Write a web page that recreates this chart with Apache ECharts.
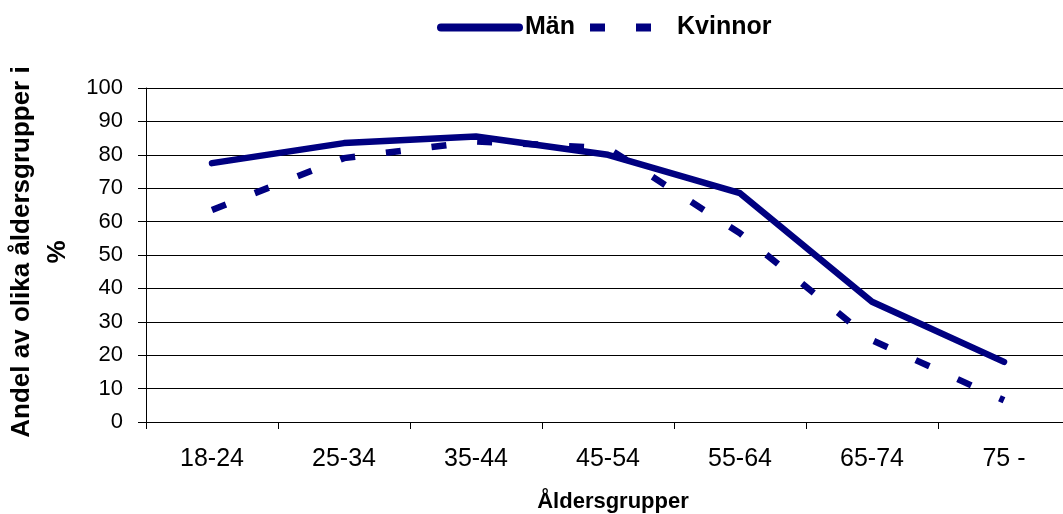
<!DOCTYPE html>
<html>
<head>
<meta charset="utf-8">
<script src="https://cdn.jsdelivr.net/npm/echarts@6/dist/echarts.min.js"></script>
<style>
  html, body { margin: 0; padding: 0; background: #fff; }
  #chart { width: 1063px; height: 514px; }
</style>
</head>
<body>
<div id="chart"></div>
<script>
var category = ['18-24', '25-34', '35-44', '45-54', '55-64', '65-74', '75 -'];
var manData = [77.5, 83.5, 85.5, 80, 68.5, 36, 18];
var kvinnorData = [63.5, 79, 84, 82, 56.5, 24.5, 6.5];

var navy = '#000080';
var font = '"Liberation Sans", Arial, sans-serif';

var myChart = echarts.init(document.getElementById('chart'));

var option = {
    animation: false,
    backgroundColor: '#fff',
    legend: {
        left: 432,
        top: 10,
        itemWidth: 86,
        itemHeight: 8,
        itemGap: 15,
        textStyle: {
            fontFamily: font,
            fontWeight: 'bold',
            fontSize: 25,
            color: '#000',
            padding: [0, 0, 0, -3]
        },
        data: [
            { name: 'Män', icon: 'path://M4,0H82A4,4 0 0 1 82,8H4A4,4 0 0 1 4,0Z' },
            { name: 'Kvinnor', icon: 'path://M2,0h15v8h-15zM48,0h15v8h-15zM86,0L86,8L86,0z' }
        ]
    },
    grid: {
        left: 146,
        width: 924,
        top: 88,
        bottom: 92,
        containLabel: false,
        outerBoundsMode: 'none'
    },
    graphic: [{
        type: 'text',
        x: 40,
        y: 252,
        rotation: Math.PI / 2,
        style: {
            text: 'Andel av olika åldersgrupper i\n%',
            font: 'bold 26px "Liberation Sans", Arial, sans-serif',
            fill: '#000',
            align: 'center',
            verticalAlign: 'middle',
            lineHeight: 36
        }
    }],
    xAxis: {
        type: 'category',
        data: category,
        boundaryGap: true,
        name: 'Åldersgrupper',
        nameLocation: 'middle',
        nameGap: 69,
        nameTextStyle: {
            fontFamily: font,
            fontWeight: 'bold',
            fontSize: 22,
            color: '#000',
            padding: [0, 0, 0, 10]
        },
        axisLine: { lineStyle: { color: '#000', width: 1 } },
        axisTick: { show: true, length: 7, lineStyle: { color: '#000' } },
        axisLabel: {
            margin: 25,
            fontFamily: font,
            fontSize: 25,
            color: '#000'
        }
    },
    yAxis: {
        type: 'value',
        min: 0,
        max: 100,
        interval: 10,
        axisLine: { show: true, lineStyle: { color: '#000', width: 1 } },
        axisTick: { show: true, length: 8, lineStyle: { color: '#000' } },
        splitLine: { show: true, lineStyle: { color: '#000', width: 1 } },
        axisLabel: {
            margin: 23,
            fontFamily: font,
            fontSize: 22,
            color: '#000'
        }
    },
    series: [
        {
            name: 'Män',
            type: 'line',
            data: manData,
            symbol: 'none',
            color: navy,
            lineStyle: {
                color: navy,
                width: 6.5,
                cap: 'round',
                join: 'round'
            }
        },
        {
            name: 'Kvinnor',
            type: 'line',
            data: kvinnorData,
            symbol: 'none',
            color: navy,
            lineStyle: {
                color: navy,
                width: 6.5,
                type: [15, 31],
                cap: 'butt'
            }
        }
    ]
};

myChart.setOption(option);
</script>
</body>
</html>
